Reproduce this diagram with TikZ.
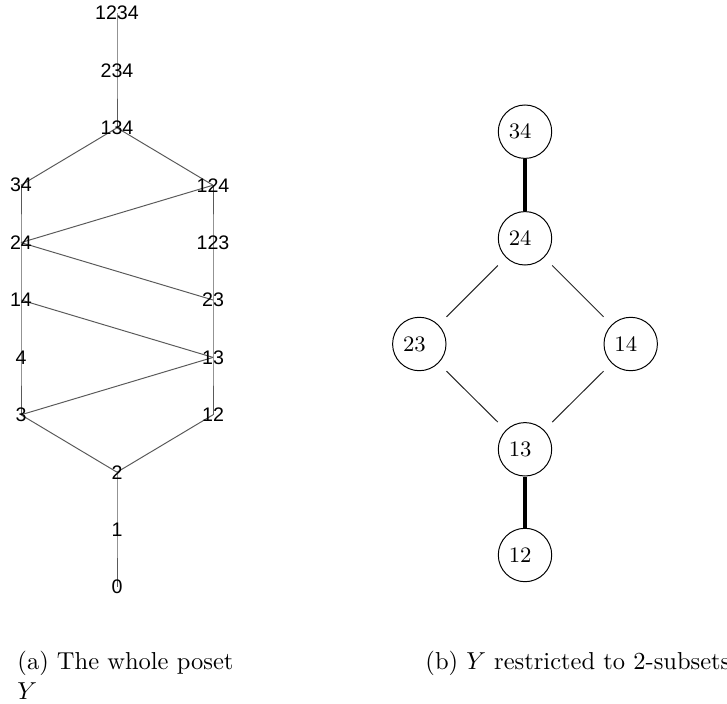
\documentclass[tikz,border=0pt]{standalone}
\usepackage{fontspec}
\newfontfamily\arialfont{Liberation Sans}
\begin{document}
\begin{tikzpicture}[x=0.408pt,y=-0.408pt,
  plab/.style={inner sep=0pt,font=\arialfont\fontsize{8}{9.6}\selectfont},
  pedge/.style={draw=black!65,line width=0.4pt},
  vtx/.style={circle,draw=black,line width=0.4pt,minimum size=21.8pt,inner sep=0pt,font=\fontsize{9}{11}\selectfont},
  thin edge/.style={draw=black!85,line width=0.4pt},
  thick edge/.style={draw=black,line width=1.6pt},
  captext/.style={inner sep=0pt,font=\fontsize{10}{12}\selectfont}]
\useasboundingbox (0,0) rectangle (727,704);
% left poset
\coordinate (a1234) at (117,13);
\coordinate (a234) at (117,70.4);
\coordinate (a134) at (117,127.8);
\coordinate (a34) at (21,185.2);
\coordinate (a124) at (213,185.2);
\coordinate (a24) at (21,242.6);
\coordinate (a123) at (213,242.6);
\coordinate (a14) at (21,300);
\coordinate (a23) at (213,300);
\coordinate (a4) at (21,357.4);
\coordinate (a13) at (213,357.4);
\coordinate (a3) at (21,414.8);
\coordinate (a12) at (213,414.8);
\coordinate (a2) at (117,472.2);
\coordinate (a1) at (117,529.6);
\coordinate (a0) at (117,587);
\draw[pedge] (a1234) -- (a234) -- (a134);
\draw[pedge] (a134) -- (a34);
\draw[pedge] (a134) -- (a124);
\draw[pedge] (a34) -- (a24) -- (a14) -- (a4) -- (a3);
\draw[pedge] (a124) -- (a123) -- (a23) -- (a13) -- (a12);
\draw[pedge] (a124) -- (a24);
\draw[pedge] (a24) -- (a23);
\draw[pedge] (a14) -- (a13);
\draw[pedge] (a3) -- (a13);
\draw[pedge] (a3) -- (a2);
\draw[pedge] (a12) -- (a2);
\draw[pedge] (a2) -- (a1) -- (a0);
\node[plab] (l1234) at (a1234) {1234};
\node[plab] (l234) at (a234) {234};
\node[plab] (l134) at (a134) {134};
\node[plab] (l34) at (a34) {34};
\node[plab] (l124) at (a124) {124};
\node[plab] (l24) at (a24) {24};
\node[plab] (l123) at (a123) {123};
\node[plab] (l14) at (a14) {14};
\node[plab] (l23) at (a23) {23};
\node[plab] (l4) at (a4) {4};
\node[plab] (l13) at (a13) {13};
\node[plab] (l3) at (a3) {3};
\node[plab] (l12) at (a12) {12};
\node[plab] (l2) at (a2) {2};
\node[plab] (l1) at (a1) {1};
\node[plab] (l0) at (a0) {0};
% right restricted poset
\node[vtx] (b34) at (525,131.7) {34\rule{4pt}{0pt}};
\node[vtx] (b24) at (525,238.3) {24\rule{4pt}{0pt}};
\node[vtx] (b23) at (419.3,344) {23\rule{4pt}{0pt}};
\node[vtx] (b14) at (630.7,344) {14\rule{4pt}{0pt}};
\node[vtx] (b13) at (525,449.3) {13\rule{4pt}{0pt}};
\node[vtx] (b12) at (525,555) {12\rule{4pt}{0pt}};
\draw[thick edge] (b34.south) -- (b24.north);
\draw[thick edge] (b13.south) -- (b12.north);
\draw[thin edge] (b24.south -| b24.west) -- (b23.north -| b23.east);
\draw[thin edge] (b24.south -| b24.east) -- (b14.north -| b14.west);
\draw[thin edge] (b23.south -| b23.east) -- (b13.north -| b13.west);
\draw[thin edge] (b14.south -| b14.west) -- (b13.north -| b13.east);
% captions
\node[captext,anchor=north west,align=left] (capa) at (17,651) {(a) The whole poset\\$Y$};
\node[captext,anchor=base west] (capb) at (425,669) {(b) $Y$ restricted to 2-subsets};
\end{tikzpicture}
\end{document}
